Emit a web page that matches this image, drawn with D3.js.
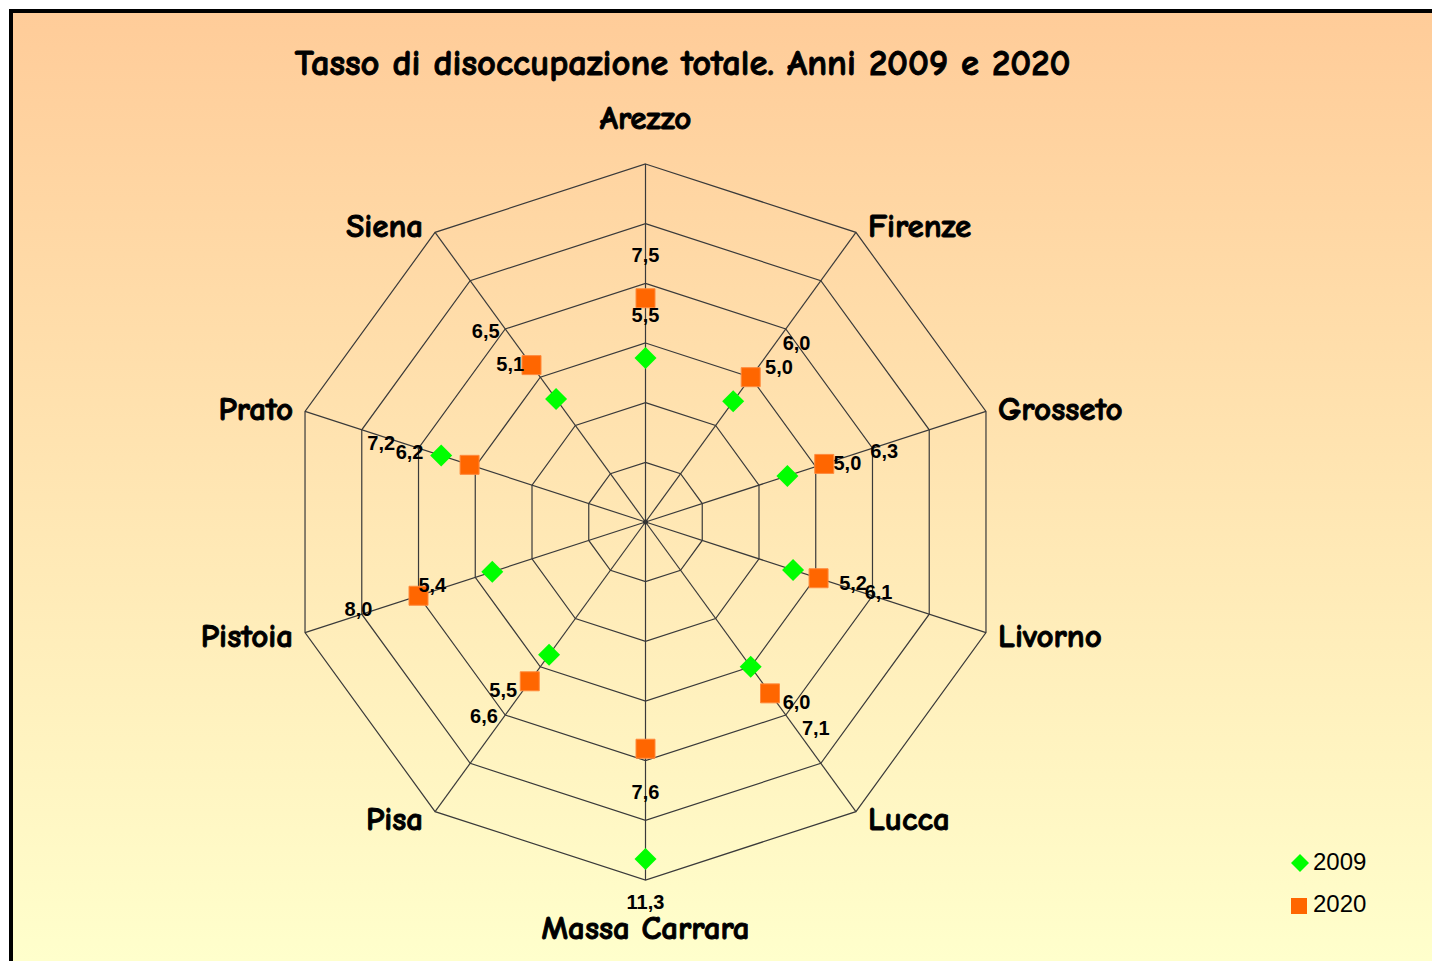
<!DOCTYPE html>
<html>
<head>
<meta charset="utf-8">
<script src="https://cdn.jsdelivr.net/npm/d3@7.9.0/dist/d3.min.js"></script>
<style>
  html, body { margin: 0; padding: 0; background: #fff; }
  svg { display: block; }
</style>
</head>
<body>
<div id="chart"></div>
<script>
// Data
const categories = ['Arezzo', 'Firenze', 'Grosseto', 'Livorno', 'Lucca',
  'Massa Carrara', 'Pisa', 'Pistoia', 'Prato', 'Siena'];
const values2009 = [5.5, 5.0, 5.0, 5.2, 6.0, 11.3, 5.5, 5.4, 7.2, 5.1];
const values2020 = [7.5, 6.0, 6.3, 6.1, 7.1, 7.6, 6.6, 8.0, 6.2, 6.5];
const seriesNames = ['2009', '2020'];
const ringTicks = [2, 4, 6, 8, 10, 12];
const titleText = 'Tasso di disoccupazione totale. Anni 2009 e 2020';

const width = 1432;
const height = 961;
const cx = 645.5;
const cy = 522;
const outerR = 358;

const comic = "'Comic Sans MS', 'Comic Neue', 'DejaVu Sans', sans-serif";
const arial = "Arial, 'Liberation Sans', sans-serif";

const itFormat = d3.formatLocale({
  decimal: ',', thousands: '.', grouping: [3], currency: ['€', ''],
}).format('.1f');

const svg = d3.select('#chart')
  .append('svg')
  .attr('width', width)
  .attr('height', height);

// background gradient
const grad = svg.append('defs').append('linearGradient')
  .attr('id', 'bg')
  .attr('gradientUnits', 'userSpaceOnUse')
  .attr('x1', 0).attr('y1', 11)
  .attr('x2', 0).attr('y2', 961);
grad.append('stop').attr('offset', 0).attr('stop-color', '#ffcc99');
grad.append('stop').attr('offset', 1).attr('stop-color', '#ffffcc');

svg.append('rect')
  .attr('x', 11).attr('y', 11)
  .attr('width', 1440).attr('height', 970)
  .attr('fill', 'url(#bg)')
  .attr('stroke', '#000')
  .attr('stroke-width', 4);

const rScale = d3.scaleLinear().domain([0, 12]).range([0, outerR]);
const angle = (i) => (i * 2 * Math.PI) / categories.length;

const g = svg.append('g').attr('transform', `translate(${cx},${cy})`);

// rings
const ringLine = d3.lineRadial()
  .angle((d, i) => angle(i))
  .radius((d) => rScale(d))
  .curve(d3.curveLinearClosed);

g.append('g')
  .selectAll('path')
  .data(ringTicks)
  .join('path')
  .attr('d', (t) => ringLine(categories.map(() => t)))
  .attr('fill', 'none')
  .attr('stroke', '#3a3a3a')
  .attr('stroke-width', 1.2);

// spokes
g.append('g')
  .selectAll('line')
  .data(categories)
  .join('line')
  .attr('x1', 0).attr('y1', 0)
  .attr('x2', (d, i) => d3.pointRadial(angle(i), rScale(12))[0])
  .attr('y2', (d, i) => d3.pointRadial(angle(i), rScale(12))[1])
  .attr('stroke', '#3a3a3a')
  .attr('stroke-width', 1.2);

g.append('circle').attr('r', 2.5).attr('fill', '#333');

// category labels
g.append('g')
  .selectAll('text')
  .data(categories)
  .join('text')
  .each(function (d, i) {
    const a = angle(i);
    const [vx, vy] = d3.pointRadial(a, rScale(12));
    const s = Math.sin(a);
    const el = d3.select(this);
    if (Math.abs(s) < 0.01) {
      el.attr('x', vx).attr('y', vy - 47 * Math.cos(a)).attr('text-anchor', 'middle');
    } else {
      el.attr('x', vx + (s > 0 ? 12 : -12))
        .attr('y', vy - 9 * Math.cos(a))
        .attr('text-anchor', s > 0 ? 'start' : 'end');
    }
  })
  .attr('dy', '0.35em')
  .attr('font-family', comic)
  .attr('font-weight', 'bold')
  .attr('font-size', 33)
  .attr('fill', '#000')
  .attr('stroke', '#000')
  .attr('stroke-width', 0.9)
  .text((d) => d);

// series
const series = [
  { name: seriesNames[0], values: values2009, color: '#00ff00', shape: 'diamond' },
  { name: seriesNames[1], values: values2020, color: '#ff6600', shape: 'square' },
];

const symbolPath = (shape, size) => d3.symbol().type(d3.symbolSquare).size(size)();

series.forEach((s) => {
  const pts = s.values.map((v, i) => d3.pointRadial(angle(i), rScale(v)));
  g.append('g')
    .selectAll('path')
    .data(pts)
    .join('path')
    .attr('d', symbolPath(s.shape, s.shape === 'diamond' ? 242 : 361))
    .attr('transform', (p) => `translate(${p[0]},${p[1]})` + (s.shape === 'diamond' ? ' rotate(45)' : ''))
    .attr('fill', s.color)
    .attr('stroke', s.shape === 'square' ? '#ff8a3d' : 'none')
    .attr('stroke-width', 1);
});

// data labels
series.forEach((s) => {
  g.append('g')
    .selectAll('text')
    .data(s.values)
    .join('text')
    .attr('x', (v, i) => {
      const a = angle(i);
      const p = d3.pointRadial(a, rScale(v));
      const k = Math.max(-1, Math.min(1, 1.3 * Math.sin(a)));
      return p[0] + 60 * k;
    })
    .attr('y', (v, i) => {
      const a = angle(i);
      const p = d3.pointRadial(a, rScale(v));
      return p[1] - 43 * Math.cos(a);
    })
    .attr('dy', '0.36em')
    .attr('text-anchor', 'middle')
    .attr('font-family', arial)
    .attr('font-weight', 'bold')
    .attr('font-size', 20)
    .attr('fill', '#000')
    .text((v) => itFormat(v));
});

// title
svg.append('text')
  .attr('x', 682.5)
  .attr('y', 62)
  .attr('dy', '0.35em')
  .attr('text-anchor', 'middle')
  .attr('font-family', comic)
  .attr('font-weight', 'bold')
  .attr('font-size', 36.6)
  .attr('fill', '#000')
  .attr('stroke', '#000')
  .attr('stroke-width', 0.9)
  .text(titleText);

// legend
const legend = svg.append('g').attr('transform', 'translate(1300,863)');
const legendRow = legend.selectAll('g')
  .data(series)
  .join('g')
  .attr('transform', (d, i) => `translate(0,${i * 42})`);

legendRow.append('path')
  .attr('d', (d) => symbolPath(d.shape, d.shape === 'diamond' ? 162 : 256))
  .attr('transform', (d) => (d.shape === 'diamond' ? 'rotate(45)' : 'translate(-1,1)'))
  .attr('fill', (d) => d.color);

legendRow.append('text')
  .attr('x', 13)
  .attr('y', -1)
  .attr('dy', '0.35em')
  .attr('font-family', arial)
  .attr('font-size', 24)
  .attr('fill', '#000')
  .text((d) => d.name);
</script>
</body>
</html>
